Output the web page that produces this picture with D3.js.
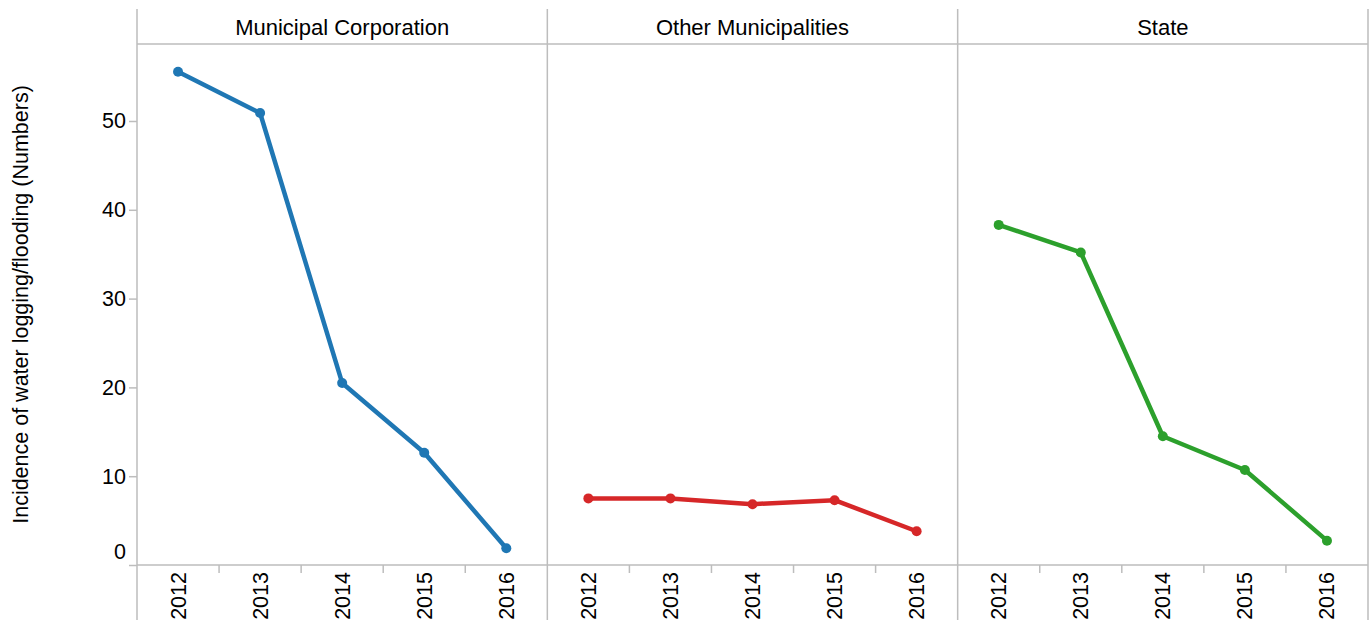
<!DOCTYPE html>
<html>
<head>
<meta charset="utf-8">
<script src="https://cdn.jsdelivr.net/npm/d3@7/dist/d3.min.js"></script>
<style>
  html, body { margin: 0; padding: 0; background: #fff; }
  svg text { font-family: "Liberation Sans", Arial, Helvetica, sans-serif; fill: #000; }
</style>
</head>
<body>
<svg id="chart" width="1372" height="620"></svg>
<script>
const years = ["2012", "2013", "2014", "2015", "2016"];
const panels = ["Municipal Corporation", "Other Municipalities", "State"];
const municipalCorporation = [55.55, 50.9, 20.5, 12.65, 1.88];
const otherMunicipalities = [7.5, 7.5, 6.85, 7.3, 3.8];
const stateValues = [38.3, 35.2, 14.5, 10.7, 2.74];
const yTicks = [0, 10, 20, 30, 40, 50];
const colors = ["#1f77b4", "#d62728", "#2ca02c"];
const yTitle = "Incidence of water logging/flooding (Numbers)";

const seriesValues = [municipalCorporation, otherMunicipalities, stateValues];

const svg = d3.select("#chart");
const plotLeft = 137, plotRight = 1368, plotTop = 44, plotBottom = 565, headerTop = 9;
const gridColor = "#bdbdbd";
const fs = 21.5;

const panelScale = d3.scaleBand().domain(panels).range([plotLeft, plotRight]);
const pw = panelScale.bandwidth();
const y = d3.scaleLinear().domain([0, 58.67]).range([plotBottom, plotTop]);

svg.append("line").attr("x1", plotLeft).attr("x2", plotRight).attr("y1", plotTop).attr("y2", plotTop)
  .attr("stroke", gridColor).attr("stroke-width", 1.5);

panels.forEach((p, i) => {
  const x0 = panelScale(p);
  const g = svg.append("g");
  g.append("line").attr("x1", x0).attr("x2", x0).attr("y1", headerTop).attr("y2", 620)
    .attr("stroke", gridColor).attr("stroke-width", 1.5);
  if (i === panels.length - 1) {
    g.append("line").attr("x1", x0 + pw).attr("x2", x0 + pw).attr("y1", headerTop).attr("y2", 620)
      .attr("stroke", gridColor).attr("stroke-width", 1.5);
  }
  g.append("text").attr("x", x0 + pw / 2).attr("y", 27).attr("dy", "0.35em")
    .attr("text-anchor", "middle").attr("font-size", 22).text(p);

  const xb = d3.scaleBand().domain(years).range([x0, x0 + pw]);
  const xp = d3.scalePoint().domain(years).range([x0, x0 + pw]).padding(0.5);

  const ax = svg.append("g").attr("transform", `translate(0,${plotBottom})`);
  years.forEach((yr, k) => {
    if (k === 0) return;
    ax.append("line").attr("x1", xb(yr)).attr("x2", xb(yr)).attr("y1", 0).attr("y2", 8)
      .attr("stroke", gridColor).attr("stroke-width", 1.5);
  });
  ax.append("line").attr("x1", x0).attr("x2", x0 + pw).attr("y1", 0).attr("y2", 0)
    .attr("stroke", gridColor).attr("stroke-width", 1.5);
  years.forEach(yr => {
    ax.append("text")
      .attr("transform", `translate(${xp(yr)},7) rotate(-90)`)
      .attr("text-anchor", "end").attr("dy", "0.35em")
      .attr("font-size", fs).text(yr);
  });

  const vals = seriesValues[i];
  const data = years.map((yr, k) => ({ yr, v: vals[k] }));
  const line = d3.line().x(d => xp(d.yr)).y(d => y(d.v));
  g.append("path").datum(data).attr("d", line).attr("fill", "none")
    .attr("stroke", colors[i]).attr("stroke-width", 4.5).attr("stroke-linejoin", "round");
  g.selectAll("circle").data(data).enter().append("circle")
    .attr("cx", d => xp(d.yr)).attr("cy", d => y(d.v)).attr("r", 5).attr("fill", colors[i]);
});

const yAxis = d3.axisLeft(y).tickValues(yTicks).tickSize(8).tickPadding(3);
const ya = svg.append("g").attr("transform", `translate(${plotLeft},0)`).call(yAxis);
ya.select(".domain").remove();
ya.selectAll(".tick line").attr("stroke", gridColor).attr("stroke-width", 1.5);
ya.selectAll(".tick text").attr("font-size", fs).attr("font-family", "Liberation Sans, Arial, sans-serif")
  .attr("fill", "#000")
  .attr("dy", d => d === 0 ? "-0.3em" : "0.32em");

svg.append("text").attr("transform", `translate(20,${(plotTop + plotBottom) / 2}) rotate(-90)`)
  .attr("text-anchor", "middle").attr("dy", "0.35em").attr("font-size", fs).text(yTitle);
</script>
</body>
</html>
